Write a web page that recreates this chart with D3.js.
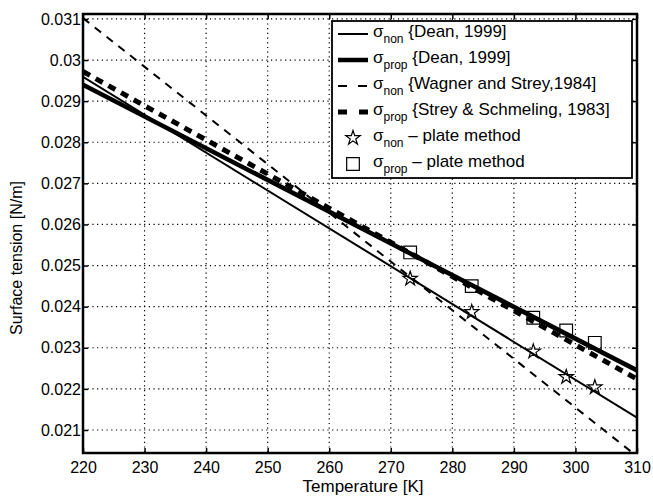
<!DOCTYPE html>
<html>
<head>
<meta charset="utf-8">
<script src="https://cdnjs.cloudflare.com/ajax/libs/d3/7.8.5/d3.min.js"></script>
<style>
  body { margin: 0; background: #fff; }
  text { font-family: "Liberation Sans", Arial, sans-serif; fill: #000; }
</style>
</head>
<body>
<script>
// line end points (T = 220 K and 310 K)
let lineTemps = [220, 310];
let nonDean = [0.02959, 0.02130];
let propDean = [0.02940, 0.02245];
let nonWagner = [0.03102, 0.02036];
let propStrey = [0.02972, 0.02224];

// plate method measurements
let plateTemps = [273.15, 283.15, 293.15, 298.5, 303.15];
let plateNon = [0.02468, 0.02387, 0.02291, 0.02229, 0.02204];
let plateProp = [0.02532, 0.02450, 0.02373, 0.02342, 0.02312];

let xTicks = [220, 230, 240, 250, 260, 270, 280, 290, 300, 310];
let yTicks = [0.021, 0.022, 0.023, 0.024, 0.025, 0.026, 0.027, 0.028, 0.029, 0.030, 0.031];
let yTickLabels = ["0.021", "0.022", "0.023", "0.024", "0.025", "0.026", "0.027", "0.028", "0.029", "0.03", "0.031"];

let legendNames = [
    {sub: "non", rest: " {Dean, 1999]"},
    {sub: "prop", rest: " {Dean, 1999]"},
    {sub: "non", rest: " {Wagner and Strey,1984]"},
    {sub: "prop", rest: " {Strey & Schmeling, 1983]"},
    {sub: "non", rest: "  \u2013 plate method"},
    {sub: "prop", rest: "  \u2013 plate method"}
];

let margin = {left: 83, top: 14, right: 16, bottom: 43};
let width = 653 - margin.left - margin.right;
let height = 496 - margin.top - margin.bottom;

let x = d3.scaleLinear().domain([220, 310]).range([0, width]);
let y = d3.scaleLinear().domain([0.02044, 0.03112]).range([height, 0]);

let svg = d3.select("body").append("svg").attr("width", 653).attr("height", 496);

let chartGroup = svg.append("g")
    .attr("transform", `translate(${margin.left},${margin.top})`);

// dotted grid
chartGroup.append("g").selectAll("line").data(xTicks.slice(1, -1)).enter().append("line")
    .attr("x1", (d) => x(d)).attr("x2", (d) => x(d))
    .attr("y1", 0).attr("y2", height)
    .attr("stroke", "#000").attr("stroke-width", 1.2).attr("stroke-dasharray", "1.2,3.5");
chartGroup.append("g").selectAll("line").data(yTicks).enter().append("line")
    .attr("x1", 0).attr("x2", width)
    .attr("y1", (d) => y(d)).attr("y2", (d) => y(d))
    .attr("stroke", "#000").attr("stroke-width", 1.2).attr("stroke-dasharray", "1.2,3.5");

// axes (inward ticks, MATLAB style)
let xAxis = d3.axisBottom(x).tickValues(xTicks).tickSize(-5).tickPadding(9).tickFormat(d3.format("d"));
let yAxis = d3.axisLeft(y).tickValues(yTicks).tickSize(-5).tickPadding(2)
    .tickFormat((d, i) => yTickLabels[i]);
let xAxisTop = d3.axisTop(x).tickValues(xTicks).tickSize(-5).tickFormat("");
let yAxisRight = d3.axisRight(y).tickValues(yTicks).tickSize(-5).tickFormat("");

let gx = chartGroup.append("g").attr("transform", `translate(0,${height})`).call(xAxis);
let gy = chartGroup.append("g").call(yAxis);
let gxt = chartGroup.append("g").call(xAxisTop);
let gyr = chartGroup.append("g").attr("transform", `translate(${width},0)`).call(yAxisRight);
[gx, gy, gxt, gyr].forEach((g) => {
    g.select(".domain").remove();
    g.selectAll(".tick line").attr("stroke", "#000").attr("stroke-width", 1.5);
    g.selectAll("text").attr("font-size", 16).attr("font-family", "Liberation Sans, Arial, sans-serif");
});

let line = d3.line()
    .x((d) => x(d[0]))
    .y((d) => y(d[1]));

chartGroup.append("clipPath").attr("id", "plotclip")
    .append("rect").attr("width", width).attr("height", height);
let plot = chartGroup.append("g").attr("clip-path", "url(#plotclip)");

let series = [
    {vals: nonDean, w: 2, dash: null, legendDash: null},
    {vals: propDean, w: 4.5, dash: null, legendDash: null},
    {vals: nonWagner, w: 2, dash: "8,7", legendDash: "9,11"},
    {vals: propStrey, w: 5, dash: "8,6.5", legendDash: "9,12"}
];

series.forEach((s) => {
    plot.append("path")
        .attr("d", line(d3.zip(lineTemps, s.vals)))
        .attr("fill", "none").attr("stroke", "#000")
        .attr("stroke-width", s.w)
        .attr("stroke-dasharray", s.dash);
});

let star = d3.symbol().type(d3.symbolStar).size(64);
let square = d3.symbol().type(d3.symbolSquare).size(160);

plot.selectAll(".star").data(d3.zip(plateTemps, plateNon)).enter().append("path")
    .attr("class", "star")
    .attr("d", star)
    .attr("transform", (d) => `translate(${x(d[0])},${y(d[1])})`)
    .attr("fill", "none").attr("stroke", "#000").attr("stroke-width", 1.2);
plot.selectAll(".sq").data(d3.zip(plateTemps, plateProp)).enter().append("path")
    .attr("class", "sq")
    .attr("d", square)
    .attr("transform", (d) => `translate(${x(d[0])},${y(d[1])})`)
    .attr("fill", "none").attr("stroke", "#000").attr("stroke-width", 1.2);

// frame
chartGroup.append("rect").attr("width", width).attr("height", height)
    .attr("fill", "none").attr("stroke", "#000").attr("stroke-width", 2.5);

// axis labels
chartGroup.append("text")
    .attr("x", width / 2 + 3).attr("y", height + 39)
    .attr("text-anchor", "middle").attr("font-size", 17)
    .text("Temperature [K]");
svg.append("text")
    .attr("transform", `translate(22,258) rotate(-90)`)
    .attr("text-anchor", "middle").attr("font-size", 16)
    .text("Surface tension [N/m]");

// legend
let legend = svg.append("g").attr("transform", "translate(332,21)");
legend.append("rect").attr("width", 300).attr("height", 157)
    .attr("fill", "#fff").attr("stroke", "#000").attr("stroke-width", 1.8);

let rowY = (i) => 13 + i * 26;
series.forEach((s, i) => {
    legend.append("line")
        .attr("x1", 6).attr("x2", 36)
        .attr("y1", rowY(i)).attr("y2", rowY(i))
        .attr("stroke", "#000").attr("stroke-width", s.w)
        .attr("stroke-dasharray", s.legendDash);
});
legend.append("path").attr("d", star).attr("transform", `translate(21,${rowY(4)})`)
    .attr("fill", "none").attr("stroke", "#000").attr("stroke-width", 1.2);
legend.append("path").attr("d", square).attr("transform", `translate(21,${rowY(5)})`)
    .attr("fill", "none").attr("stroke", "#000").attr("stroke-width", 1.2);

legend.append("clipPath").attr("id", "legclip")
    .append("rect").attr("width", 298).attr("height", 157);
let legendText = legend.append("g").attr("clip-path", "url(#legclip)");
legendNames.forEach((n, i) => {
    let t = legendText.append("text").attr("x", 41).attr("y", rowY(i) + 3).attr("font-size", 17);
    t.append("tspan").text("\u03c3");
    t.append("tspan").attr("dy", 6).attr("font-size", 12).text(n.sub);
    t.append("tspan").attr("dy", -6).text(n.rest);
});
</script>
</body>
</html>
